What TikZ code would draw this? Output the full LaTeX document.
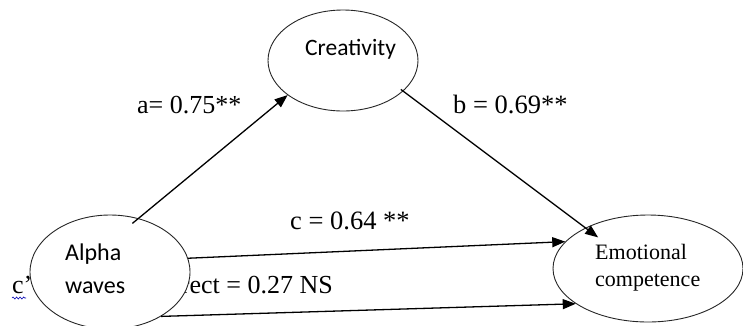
\documentclass[tikz,border=0pt]{standalone}
\usepackage{fontspec}
\setmainfont{Liberation Serif}
\newfontfamily\calib{Carlito}
\usetikzlibrary{arrows.meta,shapes.geometric,decorations.pathmorphing}
\begin{document}
\begin{tikzpicture}[x=1pt,y=-1pt,
  ell/.style={draw=black!85, line width=0.9pt, ellipse, fill=white, inner sep=0pt},
  arr/.style={draw=black, line width=1.3pt, -{Triangle[length=13pt,width=10pt]}},
  lab/.style={font=\fontsize{26}{30}\selectfont, inner sep=0pt, anchor=base west},
  lab2/.style={font=\fontsize{26.5}{30}\selectfont, inner sep=0pt, anchor=base west},
  sanstxt/.style={font=\calib\fontsize{24}{28}\selectfont, inner sep=0pt, anchor=base west},
  seriftxt/.style={font=\fontsize{22}{27}\selectfont, inner sep=0pt, anchor=base west}]
\useasboundingbox (0,0) rectangle (743,325);
% labels partly hidden behind the Alpha ellipse
\node[lab] (cp) at (12,293) {c'};
\draw[blue!70!black, line width=0.6pt, decorate, decoration={snake, amplitude=1pt, segment length=3.5pt}] (12,298) -- (26,298);
\node[lab, anchor=base east] (cdir) at (333,293) {direct = 0.27 NS};
% ellipses
\node[ell, minimum width=160pt, minimum height=114pt] (alpha) at (110,272) {};
\node[ell, minimum width=150pt, minimum height=101pt] (crea) at (343,60.5) {};
\node[ell, minimum width=190pt, minimum height=107pt] (emo) at (648,268.5) {};
% texts in ellipses
\node[sanstxt, font=\calib\fontsize{23.5}{27}\selectfont] (creaT) at (305,55) {Creativity};
\node[sanstxt] (alphaT1) at (65,260) {Alpha};
\node[sanstxt] (alphaT2) at (65,293) {waves};
\node[seriftxt] (emoT1) at (595,259) {Emotional};
\node[seriftxt] (emoT2) at (595,286) {competence};
% path labels
\node[lab] (la) at (137,113) {a= 0.75**};
\node[lab2] (lb) at (453,113) {b = 0.69**};
\node[lab2] (lc) at (290,229) {c = 0.64 **};
% arrows
\draw[arr, shorten <=-8pt] (alpha.62) -- (crea.212);
\draw[arr, shorten <=-3pt, shorten >=-16pt] (crea.333) -- (emo.147);
\draw[arr] (alpha.10.6) -- (emo.162.3);
\draw[arr] (alpha.319.3) -- (emo.206.9);
\end{tikzpicture}
\end{document}
